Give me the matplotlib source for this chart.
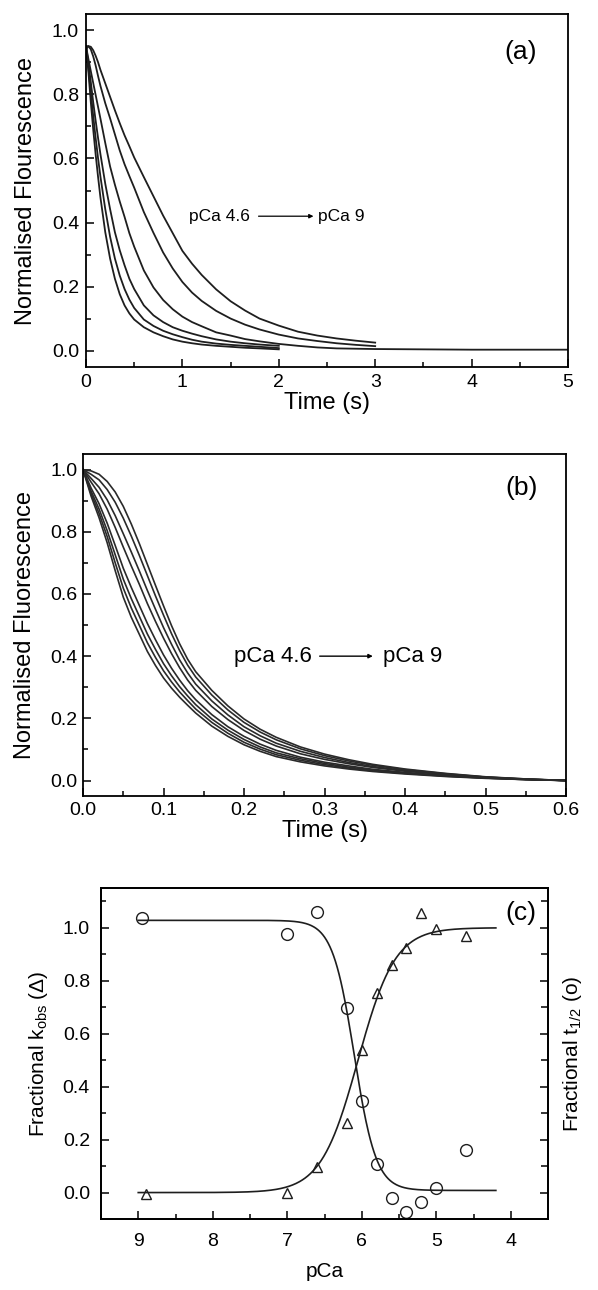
import numpy as np
import matplotlib
matplotlib.use("Agg")
import matplotlib.pyplot as plt
from matplotlib.ticker import MultipleLocator, FixedLocator, FormatStrFormatter

plt.rcParams['font.family'] = ['Liberation Sans', 'DejaVu Sans']
plt.rcParams['mathtext.fontset'] = 'custom'
plt.rcParams['mathtext.rm'] = 'Liberation Sans'
plt.rcParams['mathtext.it'] = 'Liberation Sans:italic'

nan = float('nan')

# ---------------- Panel (a): stopped-flow traces (pCa 4.6 -> pCa 9) ----------------
time_a = [0, 0.025, 0.05, 0.075, 0.1, 0.125, 0.15, 0.2, 0.25, 0.3, 0.35, 0.4, 0.45, 0.5,
          0.6, 0.7, 0.8, 0.9, 1.0, 1.1, 1.2, 1.35, 1.5, 1.65, 1.8, 2.0,
          2.2, 2.4, 2.6, 2.8, 3.0, 3.5, 4.0, 4.5, 5.0]
trace_a1 = [0.95, 0.87, 0.775, 0.69, 0.613, 0.543, 0.478, 0.37, 0.288, 0.225, 0.177, 0.142,
            0.117, 0.098, 0.074, 0.058, 0.046, 0.036, 0.029, 0.024, 0.020, 0.016, 0.013,
            0.010, 0.008, 0.005] + [nan] * 9
trace_a2 = [0.95, 0.883, 0.806, 0.732, 0.664, 0.601, 0.543, 0.442, 0.356, 0.288, 0.235,
            0.193, 0.160, 0.134, 0.098, 0.078, 0.063, 0.052, 0.043, 0.035, 0.029, 0.023,
            0.019, 0.016, 0.013, 0.009] + [nan] * 9
trace_a3 = [0.95, 0.897, 0.838, 0.775, 0.718, 0.664, 0.613, 0.521, 0.442, 0.37, 0.314,
            0.267, 0.225, 0.193, 0.142, 0.111, 0.090, 0.074, 0.063, 0.054, 0.046, 0.036,
            0.029, 0.024, 0.020, 0.016] + [nan] * 9
trace_a4 = [0.95, 0.91, 0.872, 0.835, 0.798, 0.761, 0.724, 0.648, 0.575, 0.518, 0.466,
            0.418, 0.367, 0.325, 0.251, 0.198, 0.159, 0.130, 0.107, 0.090, 0.077, 0.058,
            0.048, 0.037, 0.030, 0.022, 0.016, 0.011, 0.008, 0.007, 0.006, 0.005, 0.004,
            0.004, 0.004]
trace_a5 = [0.95, 0.95, 0.94, 0.918, 0.89, 0.857, 0.826, 0.772, 0.725, 0.675, 0.625, 0.582,
            0.545, 0.509, 0.433, 0.368, 0.307, 0.257, 0.215, 0.182, 0.156, 0.125, 0.101,
            0.082, 0.067, 0.051, 0.039, 0.031, 0.024, 0.019, 0.015] + [nan] * 4
trace_a6 = [0.94, 0.95, 0.948, 0.937, 0.92, 0.90, 0.876, 0.834, 0.792, 0.75, 0.71, 0.672,
            0.638, 0.603, 0.542, 0.482, 0.422, 0.367, 0.312, 0.272, 0.237, 0.192, 0.155,
            0.126, 0.101, 0.079, 0.060, 0.048, 0.039, 0.032, 0.026] + [nan] * 4
traces_a = [trace_a1, trace_a2, trace_a3, trace_a4, trace_a5, trace_a6]

# ---------------- Panel (b): simulated curves ----------------
time_b = [0, 0.01, 0.02, 0.03, 0.04, 0.05, 0.06, 0.07, 0.08, 0.09, 0.10, 0.11, 0.12, 0.13,
          0.14, 0.16, 0.18, 0.20, 0.22, 0.24, 0.27, 0.30, 0.33, 0.36, 0.40, 0.45, 0.50,
          0.55, 0.60]
curve_b1 = [1.0, .915, .845, .765, .675, .590, .525, .470, .415, .370, .330, .297, .268, .242,
            .217, .175, .142, .115, .094, .077, .060, .047, .037, .029, .021, .013, .007, .003, 0]
curve_b2 = [1.0, .923, .859, .785, .700, .619, .555, .499, .443, .396, .353, .317, .285, .257,
            .230, .187, .152, .123, .101, .083, .065, .051, .040, .031, .023, .014, .008, .003, 0]
curve_b3 = [1.0, .931, .873, .804, .726, .648, .585, .528, .471, .422, .376, .337, .302, .272,
            .244, .198, .162, .132, .108, .089, .070, .055, .043, .034, .024, .015, .008, .003, 0]
curve_b4 = [1.0, .941, .890, .828, .756, .683, .621, .563, .505, .453, .404, .361, .323, .289,
            .260, .212, .173, .142, .117, .097, .075, .059, .047, .036, .026, .016, .009, .004, 0]
curve_b5 = [1.0, .960, .922, .873, .814, .751, .690, .631, .569, .512, .458, .408, .363, .323,
            .290, .238, .196, .161, .133, .111, .086, .068, .054, .042, .030, .019, .010, .004, 0]
curve_b6 = [1.0, .972, .943, .903, .852, .794, .735, .674, .611, .551, .492, .438, .388, .346,
            .310, .256, .211, .173, .144, .120, .094, .074, .058, .045, .032, .020, .011, .004, 0]
curve_b7 = [1.0, .985, .967, .936, .895, .844, .786, .724, .659, .594, .532, .472, .418, .371,
            .333, .275, .227, .187, .156, .131, .102, .080, .063, .049, .035, .022, .011, .005, 0]
curve_b8 = [1.0, .996, .985, .962, .928, .882, .825, .762, .695, .628, .562, .498, .440, .390,
            .350, .290, .240, .198, .165, .139, .108, .085, .067, .052, .037, .023, .012, .005, 0]
curves_b = [curve_b1, curve_b2, curve_b3, curve_b4, curve_b5, curve_b6, curve_b7, curve_b8]

# ---------------- Panel (c): pCa dependence ----------------
pca_kobs = [8.9, 7.0, 6.6, 6.2, 6.0, 5.8, 5.6, 5.4, 5.2, 5.0, 4.6]
frac_kobs = [-0.005, 0.0, 0.098, 0.264, 0.538, 0.755, 0.86, 0.922, 1.055, 0.994, 0.969]
pca_thalf = [8.95, 7.0, 6.6, 6.2, 6.0, 5.8, 5.6, 5.4, 5.2, 5.0, 4.6]
frac_thalf = [1.035, 0.978, 1.06, 0.696, 0.347, 0.106, -0.02, -0.072, -0.036, 0.016, 0.161]

# Hill fit parameters (bottom, top, pCa50, nH)
fit_kobs = (0.0, 1.0, 6.05, 1.74)
fit_thalf = (0.008, 1.028, 6.10, 2.95)
fit_range = (9.0, 4.2)

# ---------------- Figure ----------------
fig = plt.figure(figsize=(5.98, 12.90), dpi=100)
LW_SPINE = 1.3
TICK_FS = 14
LINE_C = '#1e1e1e'


def style(ax, pad=4):
    for s in ax.spines.values():
        s.set_linewidth(LW_SPINE)
    ax.tick_params(which='both', direction='in', top=False, right=False,
                   labelsize=TICK_FS, width=1.1, pad=pad)
    ax.tick_params(which='major', length=6)
    ax.tick_params(which='minor', length=3.5)


# (a)
axa = fig.add_axes([0.1438, 0.7155, 0.806, 0.2736])
ta = np.array(time_a)
for tr in traces_a:
    axa.plot(ta, np.array(tr), color=LINE_C, lw=1.3)
axa.set_xlim(0, 5)
axa.set_ylim(-0.05, 1.05)
axa.xaxis.set_major_locator(MultipleLocator(1))
axa.xaxis.set_minor_locator(MultipleLocator(0.5))
axa.yaxis.set_major_locator(MultipleLocator(0.2))
axa.yaxis.set_minor_locator(MultipleLocator(0.1))
axa.yaxis.set_major_formatter(FormatStrFormatter('%.1f'))
style(axa, pad=5)
axa.set_xlabel('Time (s)', fontsize=17, labelpad=1)
axa.set_ylabel('Normalised Flourescence', fontsize=17, labelpad=11)
axa.text(0.902, 0.892, '(a)', transform=axa.transAxes, fontsize=19, ha='center', va='center')
axa.text(1.07, 0.42, 'pCa 4.6', fontsize=12.5, ha='left', va='center')
axa.annotate('', xy=(2.36, 0.42), xytext=(1.79, 0.42),
             arrowprops=dict(arrowstyle='-|>', color='black', lw=0.9,
                             mutation_scale=6, shrinkA=0, shrinkB=0))
axa.text(2.41, 0.42, 'pCa 9', fontsize=12.5, ha='left', va='center')

# (b)
axb = fig.add_axes([0.1388, 0.3829, 0.8077, 0.2651])
tb = np.array(time_b)
for cv in curves_b:
    axb.plot(tb, np.array(cv), color='#2a2a2a', lw=1.2)
axb.set_xlim(0, 0.6)
axb.set_ylim(-0.05, 1.05)
axb.xaxis.set_major_locator(MultipleLocator(0.1))
axb.xaxis.set_minor_locator(MultipleLocator(0.05))
axb.yaxis.set_major_locator(MultipleLocator(0.2))
axb.yaxis.set_minor_locator(MultipleLocator(0.1))
axb.xaxis.set_major_formatter(FormatStrFormatter('%.1f'))
axb.yaxis.set_major_formatter(FormatStrFormatter('%.1f'))
style(axb, pad=4)
axb.set_xlabel('Time (s)', fontsize=17, labelpad=1)
axb.set_ylabel('Normalised Fluorescence', fontsize=17, labelpad=10)
axb.text(0.907, 0.90, '(b)', transform=axb.transAxes, fontsize=19, ha='center', va='center')
axb.text(0.187, 0.40, 'pCa 4.6', fontsize=16, ha='left', va='center')
axb.annotate('', xy=(0.36, 0.40), xytext=(0.294, 0.40),
             arrowprops=dict(arrowstyle='-|>', color='black', lw=1.0,
                             mutation_scale=6, shrinkA=0, shrinkB=0))
axb.text(0.373, 0.40, 'pCa 9', fontsize=16, ha='left', va='center')

# (c)
axc = fig.add_axes([0.1689, 0.0550, 0.7475, 0.2566])
xf = np.linspace(fit_range[0], fit_range[1], 400)
b, t, p50, n = fit_kobs
axc.plot(xf, b + (t - b) / (1 + 10 ** (n * (xf - p50))), color=LINE_C, lw=1.2)
b, t, p50, n = fit_thalf
axc.plot(xf, b + (t - b) / (1 + 10 ** (n * (p50 - xf))), color=LINE_C, lw=1.2)
axc.plot(pca_kobs, frac_kobs, ls='none', marker='^', ms=6.5, mfc='none', mec=LINE_C, mew=1.0)
axc.plot(pca_thalf, frac_thalf, ls='none', marker='o', ms=8.5, mfc='none', mec=LINE_C, mew=1.0)
axc.set_xlim(9.5, 3.5)
axc.set_ylim(-0.10, 1.15)
axc.xaxis.set_major_locator(MultipleLocator(1))
axc.xaxis.set_minor_locator(MultipleLocator(0.5))
axc.yaxis.set_major_locator(FixedLocator([0.0, 0.2, 0.4, 0.6, 0.8, 1.0]))
axc.yaxis.set_minor_locator(FixedLocator([0.1, 0.3, 0.5, 0.7, 0.9, 1.1]))
axc.yaxis.set_major_formatter(FormatStrFormatter('%.1f'))
style(axc, pad=8)
axc.tick_params(axis='x', pad=10)
axc.set_xlabel('pCa', fontsize=15, labelpad=9)
axc.set_ylabel(r'Fractional k$_{\mathregular{obs}}$ ($\Delta$)', fontsize=15, labelpad=9)
axc.text(0.94, 0.925, '(c)', transform=axc.transAxes, fontsize=19, ha='center', va='center')
axr = axc.twinx()
axr.set_ylim(-0.10, 1.15)
axr.yaxis.set_major_locator(FixedLocator([0.0, 0.2, 0.4, 0.6, 0.8, 1.0]))
axr.yaxis.set_minor_locator(FixedLocator([0.1, 0.3, 0.5, 0.7, 0.9, 1.1]))
axr.tick_params(which='both', direction='in', labelright=False, width=1.1)
axr.tick_params(which='major', length=6)
axr.tick_params(which='minor', length=5)
axr.set_ylabel(r'Fractional t$_{\mathregular{1/2}}$ (o)', fontsize=15, labelpad=9)
for s in axr.spines.values():
    s.set_linewidth(LW_SPINE)

fig.savefig('out.png', dpi=100)
